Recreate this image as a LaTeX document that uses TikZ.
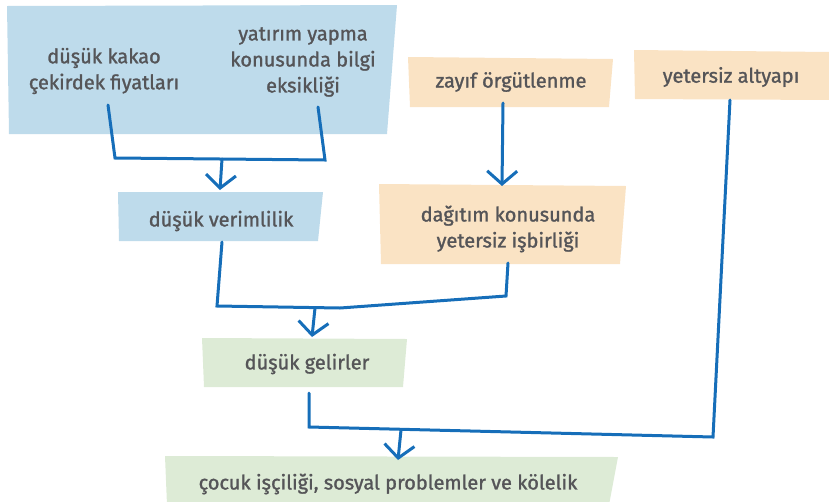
\documentclass[tikz,border=0pt]{standalone}
\usepackage{fontspec}
\setmainfont{Fira Sans}[BoldFont=Fira Sans,BoldFeatures={FakeBold=1.3}]
\usetikzlibrary{arrows.meta}
\definecolor{boxblue}{RGB}{190,219,235}
\definecolor{boxorange}{RGB}{250,227,196}
\definecolor{boxgreen}{RGB}{221,235,214}
\definecolor{linkblue}{RGB}{22,110,185}
\definecolor{txt}{RGB}{85,85,88}
\begin{document}
\begin{tikzpicture}[x=1pt,y=-1pt,
  lbl/.style={text=txt,font=\fontsize{20}{26}\selectfont\bfseries,align=center,inner sep=0pt},
  link/.style={draw=linkblue,line width=3pt,line join=miter,line cap=round},
  arr/.style={link,-{Straight Barb[length=13pt,width=30pt]}}]
\useasboundingbox (0,0) rectangle (829,501);
% boxes
\fill[boxblue] (7,6) -- (397,5) -- (387,134) -- (9,134) -- cycle;
\fill[boxblue] (118,192) -- (323,192) -- (318,241) -- (119,241) -- cycle;
\fill[boxorange] (408,57) -- (613,59) -- (609,107) -- (410,107) -- cycle;
\fill[boxorange] (379,184) -- (626,186) -- (620,264) -- (381,264) -- cycle;
\fill[boxorange] (634,50) -- (830,52) -- (830,100) -- (635,99) -- cycle;
\fill[boxgreen] (202,338) -- (407,339) -- (403,387) -- (204,387) -- cycle;
\fill[boxgreen] (165,456) -- (618,457) -- (609,505) -- (167,505) -- cycle;
% labels
\node[lbl] (kakao) at (104,71) {düşük kakao\\çekirdek fiyatları};
\node[lbl] (yatirim) at (303,62) {yatırım yapma\\konusunda bilgi\\eksikliği};
\node[lbl] (verim) at (221,221) {düşük verimlilik};
\node[lbl] (zayif) at (511,82) {zayıf örgütlenme};
\node[lbl] (dagitim) at (508,229) {dağıtım konusunda\\yetersiz işbirliği};
\node[lbl] (altyapi) at (731,77) {yetersiz altyapı};
\node[lbl] (gelir) at (307,364) {düşük gelirler};
\node[lbl] (cocuk) at (388,484) {çocuk işçiliği, sosyal problemler ve kölelik};
% connector points
\coordinate (kakaoS) at (108,105);
\coordinate (yatirimS) at (318,107);
\coordinate (m1) at (222,159);
\coordinate (verimT) at (220,190);
\coordinate (zayifS) at (503,103);
\coordinate (dagitimT) at (502,186);
\coordinate (verimS) at (222,242);
\coordinate (dagitimS) at (508,263);
\coordinate (m2) at (315,308);
\coordinate (gelirT) at (312,337);
\coordinate (gelirS) at (309,393);
\coordinate (altyapiS) at (730,100);
\coordinate (m3) at (401,430);
\coordinate (cocukT) at (398,460);
% connectors
\draw[link] (kakaoS) -- (115,158) -- (325,160) -- (yatirimS);
\draw[arr] (m1) -- (verimT);
\draw[arr] (zayifS) -- (dagitimT);
\draw[link] (verimS) -- (217,306) -- (340,308) -- (506,296) -- (dagitimS);
\draw[arr] (m2) -- (gelirT);
\draw[link] (gelirS) -- (309,427) -- (713,437) -- (altyapiS);
\draw[arr] (m3) -- (cocukT);
\end{tikzpicture}
\end{document}
